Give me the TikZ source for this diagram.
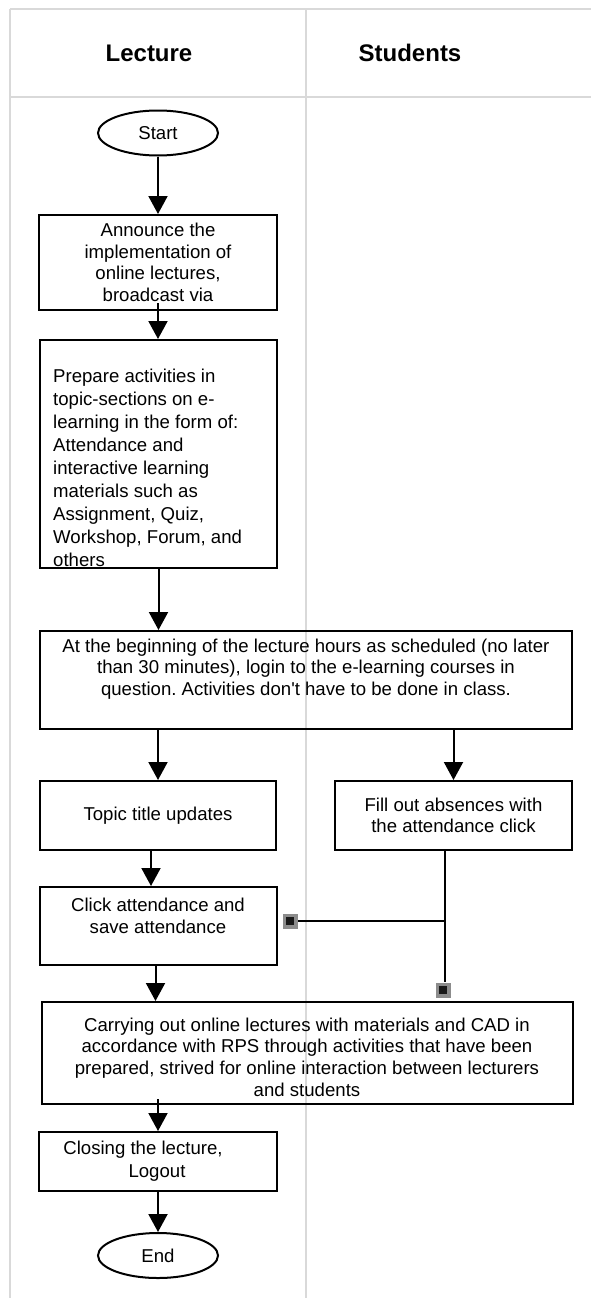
\documentclass[tikz,border=0pt]{standalone}
\usepackage{fontspec}
\setmainfont{Liberation Sans}
\usetikzlibrary{arrows.meta,shapes.geometric}
\newcommand\flowfont{\fontsize{18.6}{21.6}\selectfont}
\frenchspacing
\begin{document}
\begin{tikzpicture}[x=1pt,y=-1pt,
  grid/.style={draw=black!15, line width=1.5pt},
  box/.style={draw=black, line width=2pt, rectangle, inner sep=0pt, align=center, font=\flowfont},
  term/.style={draw=black, line width=2pt, ellipse, minimum width=120pt, minimum height=45pt, inner sep=0pt, font=\flowfont},
  txt/.style={align=center, font=\flowfont, inner sep=0pt},
  head/.style={font=\fontsize{24}{28}\selectfont\bfseries},
  flow/.style={line width=2pt, -{Triangle[length=18pt,width=19pt]}},
  link/.style={line width=2pt},
  mk/.style={fill=black!45, minimum size=15pt, inner sep=0pt}
]
\useasboundingbox (0,0) rectangle (591,1298);
\fill[white] (0,0) rectangle (591,1298);
% table grid
\draw[grid] (10,9) -- (591,9);
\draw[grid] (10,97) -- (591,97);
\draw[grid] (10,9) -- (10,1298);
\draw[grid] (306,9) -- (306,1298);
\node[head] (hl) at (149,53) {Lecture};
\node[head] (hs) at (410,53) {Students};

% nodes
\node[term] (start) at (158,133) {Start};
\node[box, minimum width=238pt, minimum height=95pt] (b1) at (158,262.5)
  {Announce the\\implementation of\\online lectures,\\broadcast via};
\node[box, minimum width=237pt, minimum height=228pt] (b2) at (158.5,454) {};
\node[txt, align=left, anchor=north west, font=\fontsize{18.6}{23}\selectfont] (t2) at (53,369)
  {Prepare activities in\\topic-sections on e-\\learning in the form of:\\Attendance and\\interactive learning\\materials such as\\Assignment, Quiz,\\Workshop, Forum, and\\others};
\node[box, minimum width=532pt, minimum height=98pt] (b3) at (306,680) {};
\node[txt] (t3) at (306,669)
  {At the beginning of the lecture hours as scheduled (no later\\than 30 minutes), login to the e-learning courses in\\question. Activities don\textquotesingle t have to be done in class.};
\node[box, minimum width=236pt, minimum height=69pt] (b4) at (158,815.5) {Topic title updates};
\node[box, minimum width=237pt, minimum height=69pt] (b5) at (453.5,815.5)
  {Fill out absences with\\the attendance click};
\node[box, minimum width=237pt, minimum height=78pt] (b6) at (158.5,926) {};
\node[txt] (t6) at (158,916) {Click attendance and\\save attendance};
\node[box, minimum width=531pt, minimum height=102pt] (b7) at (307,1053) {};
\node[txt] (t7) at (307,1057)
  {Carrying out online lectures with materials and CAD in\\accordance with RPS through activities that have been\\prepared, strived for online interaction between lecturers\\and students};
\node[box, minimum width=238pt, minimum height=59pt] (b8) at (158,1161.5) {};
\node[txt] (t8a) at (143,1150) {Closing the lecture,};
\node[txt] (t8b) at (157,1173) {Logout};
\node[term] (end) at (158,1255.5) {End};

% markers
\node[mk] (mk1) at (290,921) {};
\fill[black!90] (mk1.center) +(-4,-4) rectangle +(4,4);
\node[mk] (mk2) at (443,990) {};
\fill[black!90] (mk2.center) +(-4,-4) rectangle +(4,4);

% connectors
\draw[flow] (start.south) -- (b1.north);
\draw[flow] ([yshift=8pt]b1.south) -- (b2.north -| b1.south);
\draw[flow] (b2.south) -- (b3.north -| b2.south);
\draw[flow] (b3.south -| b4.north) -- (b4.north);
\draw[flow] (b3.south -| b5.north) -- (b5.north);
\coordinate (c4) at ([xshift=-7pt]b4.south);
\draw[flow] (c4) -- (c4 |- b6.north);
\coordinate (f1) at ([xshift=-8.5pt]b5.south);
\draw[link] (f1) -- (f1 |- mk2.north);
\draw[link] (f1 |- mk1) -- (mk1);
\draw[flow] ([xshift=-3pt]b6.south) -- ([xshift=-3pt]b6.south |- b7.north);
\draw[flow] ([yshift=6pt]b7.south -| b8.north) -- (b8.north);
\draw[flow] (b8.south) -- (end.north);
\end{tikzpicture}
\end{document}
